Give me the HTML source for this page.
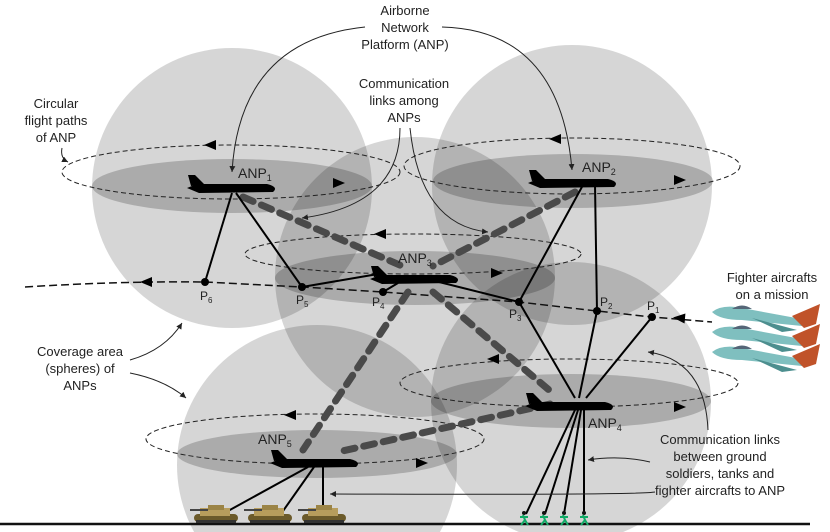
<!DOCTYPE html>
<html><head><meta charset="utf-8"><style>
html,body{margin:0;padding:0;background:#fff;width:830px;height:532px;overflow:hidden}
svg{display:block;overflow:hidden}
text{font-family:"Liberation Sans",sans-serif;fill:#222}
</style></head><body>
<svg width="830" height="532" viewBox="0 0 830 532" xmlns="http://www.w3.org/2000/svg">
<defs>
<clipPath id="cp"><rect x="0" y="0" width="830" height="532"/></clipPath>
<marker id="ah" markerWidth="8" markerHeight="8" refX="6" refY="3" orient="auto"><path d="M0,0 L6,3 L0,6 Z" fill="#222"/></marker>
<g id="plane"><path d="M0,13 L10,9 L80,9 Q92,12 86,17 L12,18 Z" fill="#000"/><path d="M4,11 L1,0 L8,0 L18,10 Z" fill="#000"/></g>
<g id="tank"><rect x="2" y="9" width="44" height="8" rx="4" fill="#6b5a2a"/><rect x="8" y="3" width="30" height="8" fill="#b79d5c"/><rect x="16" y="0" width="16" height="5" fill="#9b8446"/><rect x="-2" y="4" width="18" height="2" fill="#444"/><rect x="4" y="15" width="40" height="3" fill="#333"/></g>
<g id="sold"><circle cx="6" cy="1" r="2" fill="#111"/><path d="M5,3 L7,8 L3,13 M7,8 L10,13 M2,5 L10,5" stroke="#1a6" stroke-width="2" fill="none"/></g>
<g id="jet"><path d="M0,10 Q10,2 30,6 L95,18 L90,24 L30,18 Q8,18 0,10 Z" fill="#7fbfbf"/><path d="M20,7 Q30,0 40,7" fill="#567"/><path d="M80,14 L108,2 L104,22 L92,26 Z" fill="#c0532a"/><path d="M40,16 L85,28 L70,30 Z" fill="#4d8f8f"/></g>
</defs>
<g clip-path="url(#cp)">
<g fill="#000" fill-opacity="0.16">
<circle cx="232" cy="188" r="140"/>
<circle cx="572" cy="185" r="140"/>
<circle cx="415" cy="277" r="140"/>
<circle cx="571" cy="402" r="140"/>
<circle cx="317" cy="465" r="140"/>
</g>
<g fill="#000" fill-opacity="0.2">
<ellipse cx="232" cy="186" rx="140" ry="27"/>
<ellipse cx="573" cy="181" rx="140" ry="27"/>
<ellipse cx="415" cy="278" rx="140" ry="27"/>
<ellipse cx="571" cy="401" rx="140" ry="27"/>
<ellipse cx="317" cy="454" rx="140" ry="24"/>
</g>
</g>
<g fill="none" stroke="#222" stroke-width="1" stroke-dasharray="5,3">
<ellipse cx="231" cy="172" rx="169" ry="27"/>
<ellipse cx="572" cy="166" rx="168" ry="28"/>
<ellipse cx="413" cy="254" rx="168" ry="20"/>
<ellipse cx="569" cy="383" rx="169" ry="24"/>
<ellipse cx="315" cy="439" rx="169" ry="25"/>
</g>
<g fill="#000">
<path d="M204,145 l12,-5 v10z"/><path d="M345,183 l-12,-5 v10z"/>
<path d="M549,139 l12,-5 v10z"/><path d="M686,180 l-12,-5 v10z"/>
<path d="M374,234 l12,-5 v10z"/><path d="M503,273 l-12,-5 v10z"/>
<path d="M487,359 l12,-5 v10z"/><path d="M686,407 l-12,-5 v10z"/>
<path d="M284,415 l12,-5 v10z"/><path d="M428,463 l-12,-5 v10z"/>
</g>
<path d="M25,287 Q120,281 205,282 L302,287 L383,292 L519,302 L597,311 L652,317 L712,322" fill="none" stroke="#111" stroke-width="1.5" stroke-dasharray="8,4"/>
<path d="M140,282 l12,-5 v10z"/><path d="M673,318 l12,-5 v10z" transform="rotate(5 679 318)"/>
<g stroke="#4a4a4a" stroke-width="7" stroke-dasharray="11,9" stroke-linecap="round" fill="none">
<line x1="243" y1="197" x2="402" y2="266"/>
<line x1="575" y1="192" x2="433" y2="266"/>
<line x1="408" y1="292" x2="303" y2="450"/>
<line x1="433" y1="292" x2="555" y2="395"/>
<line x1="550" y1="404" x2="338" y2="452"/>
</g>
<g stroke="#000" stroke-width="2" fill="none">
<line x1="232" y1="193" x2="205" y2="282"/><line x1="236" y1="193" x2="302" y2="287"/>
<line x1="595" y1="185" x2="597" y2="311"/><line x1="583" y1="185" x2="519" y2="302"/>
<line x1="302" y1="287" x2="378" y2="274"/><line x1="383" y1="292" x2="398" y2="283"/><line x1="435" y1="281" x2="519" y2="302"/>
<line x1="575" y1="398" x2="519" y2="302"/><line x1="579" y1="398" x2="597" y2="311"/><line x1="586" y1="398" x2="652" y2="317"/>
<line x1="575" y1="410" x2="526" y2="514"/><line x1="578" y1="410" x2="545" y2="514"/><line x1="581" y1="410" x2="564" y2="514"/><line x1="584" y1="410" x2="584" y2="514"/>
<line x1="308" y1="467" x2="228" y2="511"/><line x1="314" y1="467" x2="283" y2="511"/><line x1="323" y1="467" x2="323" y2="511"/>
</g>
<g fill="#000"><circle cx="205" cy="282" r="4"/><circle cx="302" cy="287" r="4"/><circle cx="383" cy="292" r="4"/><circle cx="519" cy="302" r="4"/><circle cx="597" cy="311" r="4"/><circle cx="652" cy="317" r="4"/></g>
<use href="#plane" x="187" y="175"/>
<use href="#plane" x="528" y="170"/>
<use href="#plane" x="370" y="266"/>
<use href="#plane" x="525" y="393"/>
<use href="#plane" x="270" y="450"/>
<line x1="0" y1="524" x2="810" y2="524" stroke="#111" stroke-width="2.5"/>
<use href="#tank" x="192" y="505"/><use href="#tank" x="246" y="505"/><use href="#tank" x="300" y="505"/>
<use href="#sold" x="518" y="512"/><use href="#sold" x="538" y="512"/><use href="#sold" x="558" y="512"/><use href="#sold" x="578" y="512"/>
<use href="#jet" x="712" y="302"/><use href="#jet" x="712" y="322"/><use href="#jet" x="712" y="342"/>
<g fill="none" stroke="#222" stroke-width="1" marker-end="url(#ah)">
<path d="M365,27 Q240,40 232,172"/>
<path d="M442,27 Q560,30 572,170"/>
<path d="M400,128 Q400,205 302,218"/>
<path d="M410,128 Q420,225 488,232"/>
<path d="M62,148 Q60,158 68,162"/>
<path d="M130,360 Q165,350 182,323"/>
<path d="M130,373 Q165,380 186,398"/>
<path d="M708,430 Q705,360 648,352"/>
<path d="M650,462 Q620,455 588,460"/>
<path d="M655,492 Q640,495 330,494"/>
</g>
<g font-size="13" text-anchor="middle">
<text x="405" y="15">Airborne</text><text x="405" y="32">Network</text><text x="405" y="49">Platform (ANP)</text>
<text x="404" y="88">Communication</text><text x="404" y="105">links among</text><text x="404" y="122">ANPs</text>
<text x="56" y="108">Circular</text><text x="56" y="125">flight paths</text><text x="56" y="142">of ANP</text>
<text x="80" y="356">Coverage area</text><text x="80" y="373">(spheres) of</text><text x="80" y="390">ANPs</text>
<text x="772" y="282">Fighter aircrafts</text><text x="772" y="299">on a mission</text>
<text x="720" y="444">Communication links</text><text x="720" y="461">between ground</text><text x="720" y="478">soldiers, tanks and</text><text x="720" y="495">fighter aircrafts to ANP</text>
</g>
<g font-size="14">
<text x="238" y="178">ANP<tspan font-size="9" dy="3">1</tspan></text>
<text x="582" y="172">ANP<tspan font-size="9" dy="3">2</tspan></text>
<text x="398" y="263">ANP<tspan font-size="9" dy="3">3</tspan></text>
<text x="588" y="428">ANP<tspan font-size="9" dy="3">4</tspan></text>
<text x="258" y="444">ANP<tspan font-size="9" dy="3">5</tspan></text>
</g>
<g font-size="12">
<text x="200" y="300">P<tspan font-size="8" dy="3">6</tspan></text>
<text x="296" y="304">P<tspan font-size="8" dy="3">5</tspan></text>
<text x="372" y="306">P<tspan font-size="8" dy="3">4</tspan></text>
<text x="509" y="318">P<tspan font-size="8" dy="3">3</tspan></text>
<text x="600" y="306">P<tspan font-size="8" dy="3">2</tspan></text>
<text x="647" y="310">P<tspan font-size="8" dy="3">1</tspan></text>
</g>
</svg>
</body></html>
